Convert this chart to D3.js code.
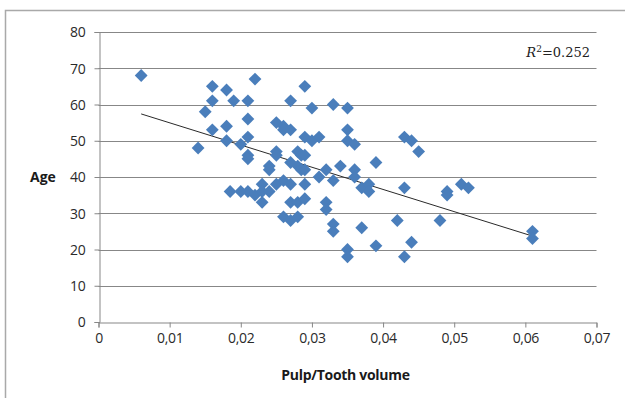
<!DOCTYPE html>
<html>
<head>
<meta charset="utf-8">
<script src="https://cdn.jsdelivr.net/npm/d3@7"></script>
<style>
  body { margin: 0; background: #fff; }
  svg { display: block; }
</style>
</head>
<body>
<div id="chart"></div>
<script>
// pulp/tooth volume ratio vs age
const pulpVolume = [
  0.006, 0.014, 0.015, 0.016, 0.016, 0.016, 0.018, 0.018, 0.018, 0.0185,
  0.019, 0.020, 0.020, 0.021, 0.021, 0.021, 0.021, 0.021, 0.021, 0.022,
  0.022, 0.023, 0.023, 0.023, 0.024, 0.024, 0.024, 0.025, 0.025, 0.025,
  0.025, 0.026, 0.026, 0.026, 0.026, 0.027, 0.027, 0.027, 0.027, 0.027,
  0.027, 0.028, 0.028, 0.028, 0.028, 0.0285, 0.0285, 0.029, 0.029, 0.029,
  0.029, 0.029, 0.029, 0.030, 0.030, 0.031, 0.031, 0.032, 0.032, 0.032,
  0.033, 0.033, 0.033, 0.033, 0.034, 0.035, 0.035, 0.035, 0.035, 0.035,
  0.036, 0.036, 0.036, 0.037, 0.037, 0.038, 0.038, 0.039, 0.039, 0.042,
  0.043, 0.043, 0.043, 0.044, 0.044, 0.045, 0.048, 0.049, 0.049, 0.051,
  0.052, 0.061, 0.061
];
const age = [
  68, 48, 58, 65, 61, 53, 64, 54, 50, 36,
  61, 49, 36, 61, 56, 51, 46, 45, 36, 67,
  35, 38, 36, 33, 43, 42, 36, 55, 47, 46,
  38, 54, 53, 39, 29, 61, 53, 44, 38, 33,
  28, 47, 43, 33, 29, 46, 42, 65, 51, 46,
  42, 38, 34, 59, 50, 51, 40, 42, 33, 31,
  60, 39, 27, 25, 43, 59, 53, 50, 20, 18,
  49, 42, 40, 37, 26, 38, 36, 44, 21, 28,
  51, 37, 18, 50, 22, 47, 28, 36, 35, 38,
  37, 25, 23
];

// linear trend line as drawn (end points)
const trendX = [0.006, 0.061];
const trendY = [57.4, 23.7];

const xTicks = [0, 0.01, 0.02, 0.03, 0.04, 0.05, 0.06, 0.07];
const yTicks = [0, 10, 20, 30, 40, 50, 60, 70, 80];
const rSquared = "0.252";

const width = 625, height = 398;
const margin = { top: 32, right: 28.5, bottom: 76, left: 98.5 };

const svg = d3.select("#chart").append("svg")
  .attr("width", width)
  .attr("height", height);

// outer frame (runs off the right and bottom edge)
svg.append("rect")
  .attr("x", 5.5).attr("y", 10.5)
  .attr("width", 640).attr("height", 400)
  .attr("fill", "none")
  .attr("stroke", "#a9a9a9")
  .attr("stroke-width", 1.5);

const x = d3.scaleLinear().domain([0, 0.07]).range([margin.left, width - margin.right]);
const y = d3.scaleLinear().domain([0, 80]).range([height - margin.bottom, margin.top]);

const fmt = d => d === 0 ? "0" : d3.format(".2f")(d).replace(".", ",");

// grid
svg.append("g")
  .selectAll("line")
  .data(yTicks.filter(d => d > 0))
  .join("line")
  .attr("x1", x(0)).attr("x2", x(0.07))
  .attr("y1", d => Math.round(y(d)) + 0.5)
  .attr("y2", d => Math.round(y(d)) + 0.5)
  .attr("stroke", "#878787")
  .attr("stroke-width", 1);

const xAxis = svg.append("g")
  .attr("transform", `translate(0,${Math.round(y(0)) + 0.5})`)
  .call(d3.axisBottom(x).tickValues(xTicks).tickFormat(fmt).tickSize(5).tickPadding(6));

const yAxis = svg.append("g")
  .attr("transform", `translate(${Math.round(x(0)) + 0.5},0)`)
  .call(d3.axisLeft(y).tickValues(yTicks).tickSize(5).tickPadding(9));

[xAxis, yAxis].forEach(g => {
  g.select(".domain").attr("stroke", "#878787");
  g.selectAll(".tick line").attr("stroke", "#878787");
  g.selectAll(".tick text")
    .attr("fill", "#2a2a2a")
    .style("font", "14px 'Open Sans', sans-serif")
    .style("letter-spacing", "-0.3px");
});
yAxis.selectAll(".tick text").attr("dy", "0.35em");

// trend line
svg.append("line")
  .attr("x1", x(trendX[0])).attr("y1", y(trendY[0]))
  .attr("x2", x(trendX[1])).attr("y2", y(trendY[1]))
  .attr("stroke", "#2a2a2a")
  .attr("stroke-width", 1);

// points
const pts = pulpVolume.map((v, i) => ({ v: v, a: age[i] }));
const diamond = d3.symbol().type(d3.symbolSquare).size(82);

svg.append("g")
  .selectAll("path")
  .data(pts)
  .join("path")
  .attr("d", diamond)
  .attr("transform", d => `translate(${x(d.v)},${y(d.a)}) rotate(45)`)
  .attr("fill", "#4a7ebb");

// axis titles
svg.append("text")
  .attr("x", (x(0) + x(0.07)) / 2 - 2)
  .attr("y", 380)
  .attr("text-anchor", "middle")
  .attr("fill", "#1a1a1a")
  .style("font", "bold 14px 'Open Sans', sans-serif")
  .style("letter-spacing", "-0.3px")
  .text("Pulp/Tooth volume");

svg.append("text")
  .attr("x", 30)
  .attr("y", y(40))
  .attr("dy", "0.35em")
  .attr("fill", "#1a1a1a")
  .style("font", "bold 14px 'Open Sans', sans-serif")
  .text("Age");

// R² annotation
const r2 = svg.append("text")
  .attr("x", 590)
  .attr("y", 57)
  .attr("text-anchor", "end")
  .attr("fill", "#222")
  .style("font", "13px 'DejaVu Serif', serif");
r2.append("tspan").style("font-style", "italic").text("R");
r2.append("tspan").attr("dy", -5).style("font-size", "9px").text("2");
r2.append("tspan").attr("dy", 5).text("=" + rSquared);
</script>
</body>
</html>
